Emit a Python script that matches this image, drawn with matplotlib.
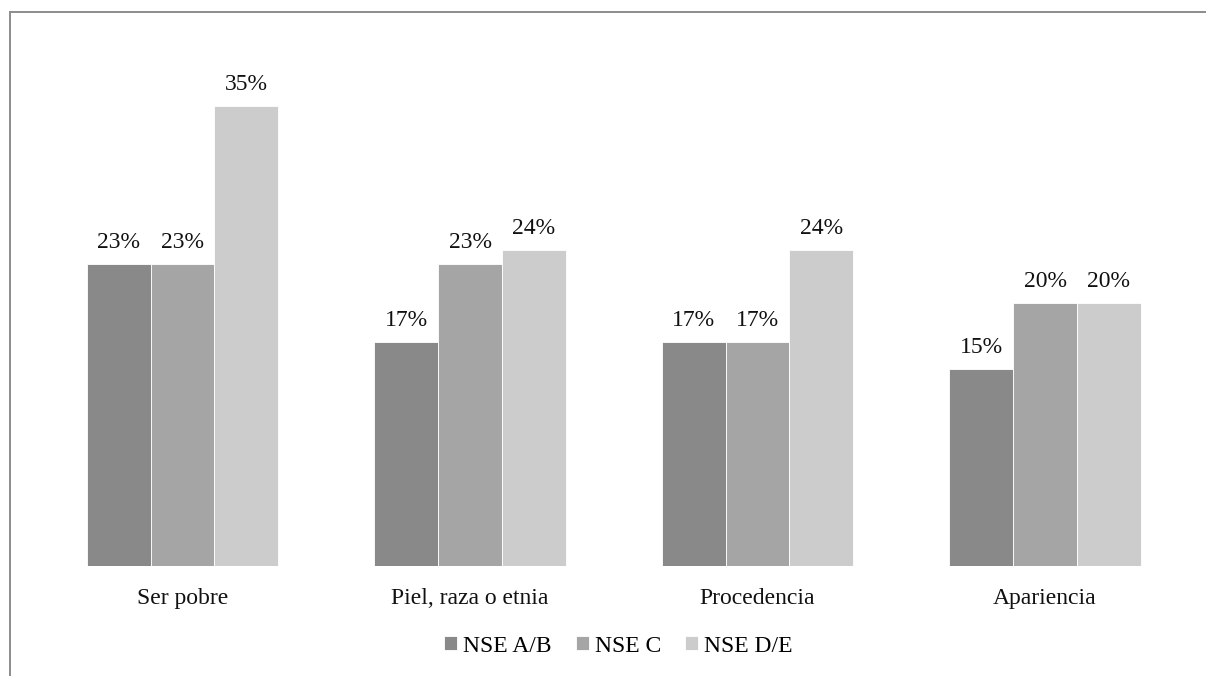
import matplotlib
matplotlib.use("Agg")
import matplotlib.pyplot as plt
from matplotlib.lines import Line2D
import numpy as np

categories = ["Ser pobre", "Piel, raza o etnia", "Procedencia", "Apariencia"]
series = ["NSE A/B", "NSE C", "NSE D/E"]
nse_ab = [0.23, 0.17, 0.17, 0.15]
nse_c = [0.23, 0.23, 0.17, 0.20]
nse_de = [0.35, 0.24, 0.24, 0.20]

COLORS = ["#898989", "#a5a5a5", "#cccccc"]
FRAME = "#8c8c8c"

plt.rcParams["font.family"] = ["Liberation Serif", "DejaVu Serif"]

fig = plt.figure(figsize=(12.06, 6.76), dpi=100)
ax = fig.add_axes([0.03213, 0.16272, 0.95357, 0.77811])

x = np.arange(len(categories))
w = 1 / 4.5      # three bars + 150% gap
for j, (name, vals) in enumerate(zip(series, [nse_ab, nse_c, nse_de])):
    bars = ax.bar(x + (j - 1) * w, vals, width=w, color=COLORS[j],
                  edgecolor="white", linewidth=0.6, label=name)
    for b, v in zip(bars, vals):
        ax.annotate(f"{v:.0%}", (b.get_x() + b.get_width() / 2, v),
                    xytext=(0, 11.5), textcoords="offset points",
                    ha="center", va="baseline", fontsize=17, color="#111111")

ax.set_xlim(-0.5, len(categories) - 0.5)
ax.set_ylim(0, 0.40)
ax.set_yticks([])
ax.set_xticks(x)
ax.set_xticklabels(categories, fontsize=17, color="#111111")
ax.tick_params(axis="x", length=0, pad=16)
for s in ax.spines.values():
    s.set_visible(False)

ax.legend(loc="center", bbox_to_anchor=(0.5040, -0.1525), ncol=3,
          frameon=False, fontsize=17, handlelength=0.55, handleheight=0.55,
          handletextpad=0.27, columnspacing=1.0, borderaxespad=0)

# outer chart frame (top and left edges only)
fx, fy = 9.5 / 1206, 1 - 11.5 / 676
fig.add_artist(Line2D([fx, 1.0], [fy, fy], transform=fig.transFigure,
                      color=FRAME, lw=1.4))
fig.add_artist(Line2D([fx, fx], [0.0, fy], transform=fig.transFigure,
                      color=FRAME, lw=1.4))

fig.savefig("out.png", dpi=100)
